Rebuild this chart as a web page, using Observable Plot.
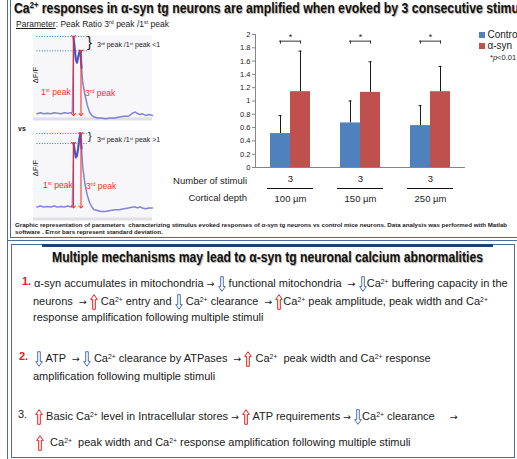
<!DOCTYPE html>
<html><head><meta charset="utf-8">
<script src="https://cdn.jsdelivr.net/npm/d3@7"></script>
<script src="https://cdn.jsdelivr.net/npm/@observablehq/plot@0.6"></script>
<style>
html,body{margin:0;padding:0;background:#fff;}
#root{position:relative;width:517px;height:459px;overflow:hidden;background:#fff;font-family:"Liberation Sans",Arial,sans-serif;color:#1a1a1a;}
#root sup{font-size:0.62em;line-height:0;vertical-align:0.5em;}
#root .ar{font-family:"DejaVu Sans";font-size:0.85em;line-height:0;}
.abs{position:absolute;}
</style></head><body><div id="root"></div><script>
// ---------- data ----------
const depths = ["100 µm", "150 µm", "250 µm"];
const stimuliCount = [3, 3, 3];
const seriesNames = ["Control", "α-syn"];
const seriesColors = ["#4f81bd", "#c0504d"];
const controlMean = [0.51, 0.67, 0.63];
const controlSD = [0.27, 0.33, 0.30];
const asynMean = [1.14, 1.13, 1.14];
const asynSD = [0.61, 0.46, 0.38];
const yTicks = [0, 0.2, 0.4, 0.6, 0.8, 1, 1.2, 1.4, 1.6, 1.8, 2];

// example ΔF/F traces (arbitrary units)
const traceTime = [0,3,6,9,12,15,18,21,24,27,30,31,32,33,34,35,36,37,38,39,40,42,44,46,48,50,53,56,60,64,68,72,76,80,84,86,88,90,92,95,98,101];
const traceLow  = [.08,.09,.08,.085,.08,.09,.085,.08,.09,.085,.09,.10,.98,.85,.72,.68,.74,.80,.82,.62,.45,.30,.18,.10,.06,.04,.03,.03,.02,.03,.03,.04,.05,.05,.09,.10,.08,.07,.08,.06,.07,.06];
const traceHigh = [.15,.16,.15,.155,.15,.16,.15,.155,.15,.16,.15,.17,.86,.78,.70,.72,.80,.90,.97,.80,.60,.40,.28,.20,.15,.12,.11,.10,.10,.11,.12,.12,.13,.14,.15,.15,.14,.15,.14,.13,.14,.14];
const peakTime = [32, 38.5];
const peakLow = [0.988, 0.82];
const peakHigh = [0.856, 0.967];
const footLow = 0.07, footHigh = 0.15;

// ---------- helpers ----------
const root = document.getElementById("root");
function T(x, base, fs, html, css = "", anchor = "start") {
  const d = document.createElement("div");
  d.className = "abs";
  const tx = anchor === "end" ? "translateX(-100%)" : anchor === "middle" ? "translateX(-50%)" : "";
  d.style.cssText = `left:${x}px;top:${base - 0.8465 * fs}px;font-size:${fs}px;line-height:${fs}px;white-space:nowrap;transform:${tx};${css}`;
  d.innerHTML = html;
  root.appendChild(d);
  return d;
}
function box(css) { const d = document.createElement("div"); d.className = "abs"; d.style.cssText = css; root.appendChild(d); return d; }
function place(node, x, y) { node.style.position = "absolute"; node.style.left = x + "px"; node.style.top = y + "px"; root.appendChild(node); return node; }

const UP = `<svg width="8" height="16" viewBox="0 0 8 16" style="vertical-align:-5px"><path d="M4 0.7 L7.3 5.4 L5.3 5.4 L5.3 15.3 L2.7 15.3 L2.7 5.4 L0.7 5.4 Z" fill="#fff" stroke="#ee1c1c" stroke-width="1"/></svg>`;
const DN = `<svg width="8" height="16" viewBox="0 0 8 16" style="vertical-align:-5px"><path d="M4 15.3 L7.3 10.6 L5.3 10.6 L5.3 0.7 L2.7 0.7 L2.7 10.6 L0.7 10.6 Z" fill="#fff" stroke="#4a72b0" stroke-width="1"/></svg>`;
const RA = `<span class="ar">→</span>`;

// ---------- panels ----------
const BC = "#4d6d9c";
box(`left:7px;top:-10px;width:530px;height:251px;box-sizing:border-box;border-left:4px double ${BC};border-bottom:4px double ${BC};`);
box(`left:7px;top:240px;width:1px;height:219px;background:${BC};`);
box(`left:11px;top:244px;width:504px;height:214px;box-sizing:border-box;border:1px solid ${BC};`);
box(`left:42px;top:244px;width:451px;height:2.5px;background:#24406e;`);

// ---------- top panel text ----------
const tt = T(14, 12.5, 15, "<span id='tpre'>Ca<sup>2+</sup> responses in α-syn tg neurons are amplified when evoked by 3 consecutive stimu</span>li",
  "font-weight:bold;color:#111;text-shadow:1px 1px 1px rgba(0,0,0,0.35);transform-origin:0 0;");
const tpw = document.getElementById("tpre").getBoundingClientRect().width;
tt.style.transform = `scaleX(${505 / tpw})`;
T(16, 27, 8.5, "<u>Parameter</u>: Peak Ratio 3<sup>rd</sup> peak /1<sup>st</sup> peak");

// ---------- trace plots ----------
function tracePlot(vals, peaks, foot, h) {
  const pts = traceTime.map((t, i) => ({t, v: vals[i]}));
  const core = pts.filter(d => d.t >= 32 && d.t <= 39);
  const pk = peakTime.map((t, i) => ({t, top: peaks[i]}));
  return Plot.plot({
    width: 119, height: h, margin: 0,
    x: {domain: [-3, 101], axis: null},
    y: {domain: [0, 1], axis: null},
    style: {background: "#f7f7f9", overflow: "visible"},
    marks: [
      Plot.ruleY([0], {stroke: "#e0e0e4", strokeWidth: 3, dy: -1.5}),
      Plot.ruleY(pk, {y: "top", x1: 0, x2: 44, stroke: "#4a8fd8", strokeDasharray: "1.2,1.4", strokeWidth: 1}),
      Plot.line(pts, {x: "t", y: "v", stroke: "#5c5cc8", strokeWidth: 1.5, strokeOpacity: 0.75}),
      Plot.line(core, {x: "t", y: "v", stroke: "#3030b0", strokeWidth: 2.2, strokeOpacity: 0.65}),
      Plot.link(pk, {x1: "t", x2: "t", y1: "top", y2: () => foot, stroke: "#ff2020", strokeWidth: 1, markerStart: "arrow", markerEnd: "arrow"})
    ]
  });
}
place(tracePlot(traceLow, peakLow, footLow, 85), 33, 35);
place(tracePlot(traceHigh, peakHigh, footHigh, 90), 33, 130);

function rot(x, y, fs, html) {
  const d = document.createElement("div");
  d.className = "abs";
  d.style.cssText = `left:${x}px;top:${y}px;font-size:${fs}px;line-height:${fs}px;white-space:nowrap;transform:translate(-50%,-50%) rotate(-90deg);`;
  d.innerHTML = html; root.appendChild(d);
}
rot(36, 75, 7.5, "ΔF/F");
rot(36, 168, 7.5, "ΔF/F");
T(87, 46.8, 15, "}");
T(97, 46.5, 7, "3<sup>rd</sup> peak /1<sup>st</sup> peak &lt;1");
T(88, 140.7, 11, "}");
T(97, 142, 7, "3<sup>rd</sup> peak /1<sup>st</sup> peak &gt;1");
T(41, 95, 8.5, "1<sup>st</sup> peak", "color:#ff2a2a;");
T(85, 96, 8.5, "3<sup>rd</sup> peak", "color:#ff2a2a;");
T(43, 188, 8.5, "1<sup>st</sup> peak", "color:#ff2a2a;");
T(86, 189, 8.5, "3<sup>rd</sup> peak", "color:#ff2a2a;");
T(18, 130.5, 7, "vs", "font-weight:bold;");

// ---------- bar chart ----------
const bars = depths.flatMap((d, i) => [
  {depth: d, series: seriesNames[0], mean: controlMean[i], sd: controlSD[i]},
  {depth: d, series: seriesNames[1], mean: asynMean[i], sd: asynSD[i]}
]);
const groups = depths.map((d, i) => ({depth: d, stim: String(stimuliCount[i])}));

const chart = Plot.plot({
  width: 317, height: 180,
  marginLeft: 55, marginRight: 52, marginTop: 9, marginBottom: 38,
  style: {fontFamily: "Liberation Sans, Arial, sans-serif", fontSize: "9.5px", color: "#222", background: "transparent", overflow: "visible"},
  fx: {domain: depths, padding: 0, label: null},
  x: {domain: seriesNames, paddingInner: 0, paddingOuter: 0.75, axis: null},
  y: {domain: [0, 2]},
  color: {domain: seriesNames, range: seriesColors},
  marks: [
    Plot.axisY({ticks: yTicks, tickSize: 3, tickPadding: 2, tickFormat: d3.format("~g"), label: null, fontSize: 7.5, stroke: "#868686"}),
    Plot.axisFx({anchor: "bottom", tickSize: 0, tickPadding: 28, label: null}),
    Plot.barY(bars, {fx: "depth", x: "series", y: "mean", fill: "series"}),
    Plot.ruleX(bars, {fx: "depth", x: "series", y1: "mean", y2: d => d.mean + d.sd, stroke: "#1a1a1a", strokeWidth: 1}),
    Plot.tickY(bars, {fx: "depth", x: "series", y: d => d.mean + d.sd, insetLeft: 8.5, insetRight: 8.5, stroke: "#1a1a1a"}),
    Plot.ruleY([0], {stroke: "#868686"}),
    Plot.frame({anchor: "left", facetAnchor: "left", stroke: "#868686"}),
    Plot.ruleY(groups, {fx: "depth", y: 1.9, insetLeft: 24, insetRight: 24, stroke: "#333"}),
    Plot.ruleX(bars, {fx: "depth", x: "series", y1: 1.855, y2: 1.9, stroke: "#333"}),
    Plot.text(groups, {fx: "depth", y: 1.9, text: () => "*", dy: -4.5, fontSize: 9}),
    Plot.text(groups, {fx: "depth", text: "stim", frameAnchor: "bottom", dy: 14}),
    Plot.ruleY(groups, {fx: "depth", y: 0, dy: 21, insetLeft: 12, insetRight: 12, stroke: "#111"})
  ]
});
place(chart, 200, 25);

T(247, 184.5, 9.5, "Number of stimuli", "", "end");
T(247, 201.5, 9.5, "Cortical depth", "", "end");

// legend
seriesNames.forEach((s, i) => {
  box(`left:479px;top:${32 + i * 11}px;width:5.5px;height:5.5px;background:${seriesColors[i]};`);
  T(487.5, 38.5 + i * 11, 10, s);
});
T(490, 60, 7.5, "*<i>p</i>&lt;0.01");

// caption
const cap1 = T(15, 227, 6, "Graphic representation of parameters &nbsp;characterizing stimulus evoked responses of α-syn tg neurons vs control mice neurons. Data analysis was performed with Matlab", "font-weight:bold;");
const w1 = cap1.getBoundingClientRect().width;
const cfs = 6 * 493 / w1;
cap1.style.fontSize = cfs + "px"; cap1.style.lineHeight = cfs + "px"; cap1.style.top = (227 - 0.8465 * cfs) + "px";
T(15, 234, cfs, "software . Error bars represent standard deviation.", "font-weight:bold;");

// ---------- bottom panel ----------
const bt = T(52, 262, 15, "Multiple mechanisms may lead to α-syn tg neuronal calcium abnormalities",
  "font-weight:bold;color:#111;text-shadow:1px 1px 1px rgba(0,0,0,0.35);transform-origin:0 0;");
const bw = bt.getBoundingClientRect().width;
bt.style.transform = `scaleX(${431 / bw})`;

const FS = 11;
T(22, 285, FS, "1.", "font-weight:bold;color:#e02020;");
T(34, 285, FS, `α-syn accumulates in mitochondria ${RA} ${DN} functional mitochondria &nbsp;${RA} ${DN}Ca<sup>2+</sup> buffering capacity in the`);
T(33, 303, FS, `neurons &nbsp;${RA} ${UP} Ca<sup>2+</sup> entry and ${DN} Ca<sup>2+</sup> clearance &nbsp;${RA} ${UP}Ca<sup>2+</sup> peak amplitude, peak width and Ca<sup>2+</sup>`);
T(33, 321, FS, "response amplification following multiple stimuli");
T(19, 360, FS, "2.", "font-weight:bold;color:#e02020;");
T(35, 360, FS, `${DN} ATP &nbsp;${RA} ${DN} Ca<sup>2+</sup> clearance by ATPases &nbsp;${RA} ${UP} Ca<sup>2+</sup> &nbsp;peak width and Ca<sup>2+</sup> response`);
T(33, 380, FS, "amplification following multiple stimuli");
T(18, 418, FS, "3.");
T(35, 418, FS, `${UP} Basic Ca<sup>2+</sup> level in Intracellular stores ${RA} ${UP} ATP requirements ${RA} ${DN}Ca<sup>2+</sup> clearance &nbsp;&nbsp;&nbsp; ${RA}`);
T(36, 444, FS, `${UP} &nbsp;Ca<sup>2+</sup> &nbsp;peak width and Ca<sup>2+</sup> response amplification following multiple stimuli`);
</script></body></html>
